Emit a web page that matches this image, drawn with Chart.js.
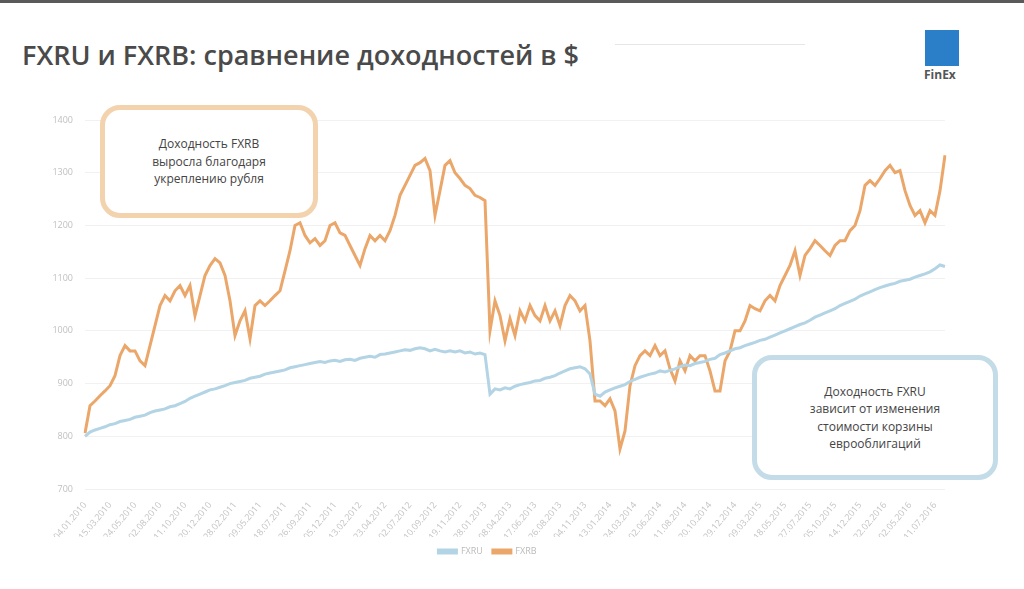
<!DOCTYPE html>
<html lang="ru">
<head>
<meta charset="utf-8">
<title>FXRU и FXRB</title>
<script src="https://cdn.jsdelivr.net/npm/chart.js@4"></script>
<style>
    html, body { margin: 0; padding: 0; background: #fff; }
    body { width: 1024px; height: 589px; position: relative; overflow: hidden; font-family: "Open Sans", "Liberation Sans", sans-serif; }
    .top-bar { position: absolute; left: 0; top: 0; width: 1024px; height: 3px; background: #5a5a5a; }
    .title { position: absolute; left: 22px; top: 36px; font-size: 27px; color: #4a4a4a; font-weight: 600; }
    .deco { position: absolute; left: 615px; top: 44px; width: 190px; height: 0; border-top: 1px solid #e6e6e6; }
    .logo { position: absolute; left: 925px; top: 30px; width: 34px; height: 36px; background: #2b7fc8; }
    .logo-text { position: absolute; left: 924px; top: 66px; font-size: 12px; font-weight: 700; color: #555; }
    .chart-box { position: absolute; left: 30px; top: 100px; width: 940px; height: 466px; }
    .note { position: absolute; box-sizing: border-box; border-radius: 20px; display: flex; align-items: center; justify-content: center; text-align: center; font-size: 12px; line-height: 1.45; color: #444; background: #fff; }
    .note-fxrb { left: 100px; top: 105px; width: 218px; height: 113px; border: 5px solid #f3d2ae; }
    .note-fxru { left: 752px; top: 355px; width: 246px; height: 125px; border: 5px solid #c3dce8; }
</style>
</head>
<body>
<div class="top-bar"></div>
<div class="title">FXRU и FXRB: сравнение доходностей в $</div>
<div class="deco"></div>
<div class="logo"></div>
<div class="logo-text">FinEx</div>
<div class="chart-box"><canvas id="chart"></canvas></div>
<div class="note note-fxrb">Доходность FXRB<br>выросла благодаря<br>укреплению рубля</div>
<div class="note note-fxru">Доходность FXRU<br>зависит от изменения<br>стоимости корзины<br>еврооблигаций</div>

<script>
// данные
const seriesNames = ['FXRU', 'FXRB'];
const yTicks = [700, 800, 900, 1000, 1100, 1200, 1300, 1400];

const fxrbValues = [
    806, 858, 867, 877, 886, 896, 915, 953, 972, 962, 962, 943, 934, 972, 1010, 1048, 1067, 1057, 1076, 1086,
    1067, 1086, 1029, 1067, 1105, 1124, 1137, 1129, 1105, 1057, 991, 1019, 1038, 985, 1048, 1057, 1048, 1057, 1067, 1076,
    1114, 1152, 1200, 1205, 1181, 1167, 1175, 1162, 1171, 1200, 1205, 1186, 1181, 1162, 1143, 1124, 1156, 1181, 1171, 1181,
    1171, 1190, 1219, 1257, 1276, 1295, 1314, 1319, 1327, 1304, 1219, 1266, 1314, 1323, 1300, 1289, 1276, 1270, 1257, 1253,
    1247, 1000, 1057, 1029, 981, 1023, 991, 1038, 1019, 1048, 1029, 1019, 1048, 1019, 1038, 1010, 1048, 1067, 1057, 1038,
    1048, 981, 867, 867, 858, 871, 848, 776, 810, 896, 934, 953, 962, 953, 972, 953, 962, 928, 905, 943,
    924, 953, 943, 953, 953, 924, 886, 886, 943, 962, 1000, 1000, 1019, 1048, 1042, 1038, 1057, 1067, 1057, 1086,
    1105, 1124, 1152, 1105, 1143, 1156, 1171, 1162, 1152, 1143, 1162, 1171, 1171, 1190, 1200, 1228, 1276, 1285, 1276, 1289,
    1304, 1314, 1300, 1304, 1266, 1238, 1219, 1228, 1205, 1228, 1219, 1266, 1333
];

const fxruValues = [
    800, 808, 812, 815, 818, 822, 824, 828, 830, 832, 836, 838, 840, 845, 848, 850, 852, 856, 858, 862,
    866, 872, 876, 880, 884, 888, 890, 893, 896, 900, 902, 904, 906, 910, 912, 914, 918, 920, 922, 924,
    926, 930, 932, 934, 936, 938, 940, 942, 940, 943, 944, 942, 945, 946, 944, 948, 950, 952, 950, 955,
    956, 958, 960, 962, 964, 963, 966, 968, 966, 962, 965, 962, 960, 962, 960, 962, 958, 960, 956, 958,
    955, 880, 890, 888, 892, 890, 895, 898, 900, 902, 905, 906, 910, 912, 915, 920, 924, 928, 930, 932,
    928, 918, 880, 876, 884, 888, 892, 895, 898, 904, 908, 912, 915, 918, 920, 924, 922, 925, 928, 932,
    935, 934, 938, 940, 942, 946, 948, 955, 958, 962, 966, 968, 972, 975, 978, 982, 984, 988, 992, 996,
    1000, 1004, 1008, 1012, 1015, 1020, 1026, 1030, 1034, 1038, 1042, 1048, 1052, 1056, 1060, 1066, 1070, 1074, 1078, 1082,
    1085, 1088, 1090, 1094, 1096, 1098, 1102, 1105, 1108, 1112, 1118, 1125, 1122
];

// даты раз в две недели
const startDate = new Date(Date.UTC(2010, 0, 4));
const categories = fxrbValues.map((_, i) => {
    const d = new Date(startDate.getTime() + i * 14 * 86400000);
    const dd = String(d.getUTCDate()).padStart(2, '0');
    const mm = String(d.getUTCMonth() + 1).padStart(2, '0');
    return dd + '.' + mm + '.' + d.getUTCFullYear();
});

const colors = { FXRU: '#b3d4e4', FXRB: '#eba66a' };

new Chart(document.getElementById('chart'), {
    type: 'line',
    data: {
        labels: categories,
        datasets: [
            {
                label: seriesNames[0],
                data: fxruValues,
                borderColor: colors.FXRU,
                backgroundColor: colors.FXRU,
                borderWidth: 3,
                pointRadius: 0,
                tension: 0
            },
            {
                label: seriesNames[1],
                data: fxrbValues,
                borderColor: colors.FXRB,
                backgroundColor: colors.FXRB,
                borderWidth: 3,
                pointRadius: 0,
                tension: 0
            }
        ]
    },
    options: {
        responsive: true,
        maintainAspectRatio: false,
        animation: false,
        layout: { padding: { top: 20, right: 25, bottom: 0, left: 0 } },
        plugins: {
            tooltip: { enabled: false },
            legend: {
                position: 'bottom',
                labels: {
                    boxWidth: 18,
                    boxHeight: 3,
                    padding: 10,
                    color: '#bbb',
                    font: { size: 9, family: 'Open Sans' }
                }
            }
        },
        scales: {
            x: {
                grid: { display: false },
                border: { display: false },
                afterFit: (scale) => { scale.height = 48; },
                ticks: {
                    autoSkip: false,
                    maxRotation: 50,
                    minRotation: 50,
                    color: '#c4c4c4',
                    font: { size: 9, family: 'Open Sans' },
                    callback: function(value, index) {
                        return index % 5 === 0 ? this.getLabelForValue(value) : null;
                    }
                }
            },
            y: {
                min: yTicks[0],
                max: yTicks[yTicks.length - 1],
                afterFit: (scale) => { scale.width = 55; },
                afterBuildTicks: (scale) => { scale.ticks = yTicks.map(v => ({ value: v })); },
                grid: { color: '#f1f1f1', drawTicks: false },
                border: { display: false },
                ticks: {
                    padding: 12,
                    color: '#c0c0c0',
                    font: { size: 9, family: 'Open Sans' },
                    callback: (value) => String(value)
                }
            }
        }
    }
});
</script>
</body>
</html>
